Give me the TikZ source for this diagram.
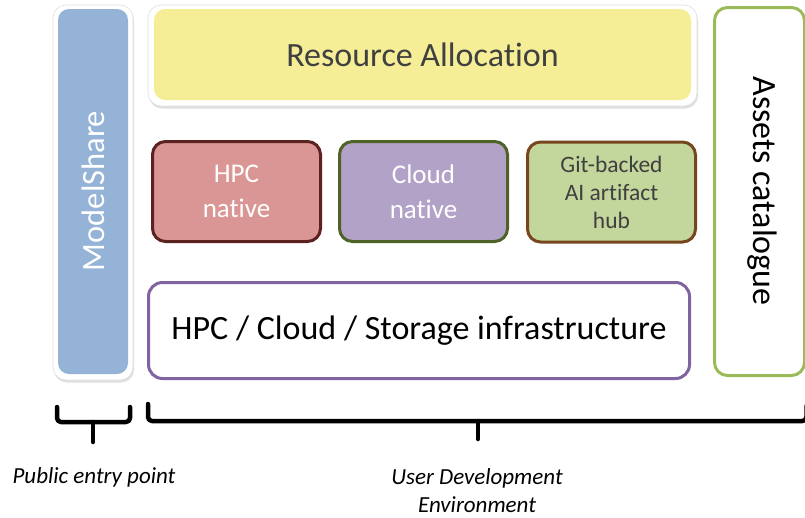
\documentclass[tikz,border=0pt]{standalone}
\usepackage{fontspec}
\setmainfont{Carlito}[Ligatures=NoCommon]
\usetikzlibrary{shadows}
\definecolor{msblue}{HTML}{95B3D7}
\definecolor{ryellow}{HTML}{F6EE96}
\definecolor{hpcfill}{HTML}{D99694}
\definecolor{hpcdraw}{HTML}{5C2220}
\definecolor{cloudfill}{HTML}{B3A2C7}
\definecolor{clouddraw}{HTML}{4F6228}
\definecolor{gitfill}{HTML}{C3D69B}
\definecolor{gitdraw}{HTML}{78461E}
\definecolor{infradraw}{HTML}{8064A2}
\definecolor{assetdraw}{HTML}{9BBB59}
\definecolor{darktext}{HTML}{404040}
\begin{document}
\begin{tikzpicture}[x=1pt,y=-1pt,
  frame/.style={fill=white, draw=black!12, line width=0.6pt, rounded corners=13pt, inner sep=0pt,
    drop shadow={shadow xshift=1pt,shadow yshift=-2.5pt,opacity=0.25}},
  panel/.style={rounded corners=11pt, inner sep=0pt},
  tile/.style={rounded corners=13pt, line width=3pt, minimum width=168pt, minimum height=100pt,
    align=center, inner sep=0pt},
  bigtext/.style={font=\fontsize{34}{40}\selectfont},
  tiletext/.style={font=\fontsize{27}{35}\selectfont},
  brace/.style={line width=4.5pt, line cap=round, line join=round, rounded corners=4pt},
  caption/.style={font=\fontsize{23}{28}\selectfont\itshape, align=center, inner sep=0pt}]
\useasboundingbox (0,0) rectangle (805,517);
\clip (0,0) rectangle (805,517);
\fill[white] (0,0) rectangle (805,517);

% ModelShare
\node[frame, minimum width=80pt, minimum height=375pt] (msframe) at (93,192.5) {};
\node[panel, fill=msblue, minimum width=70pt, minimum height=365pt] (ms) at (93,191.5) {};
\node[text=white, rotate=90, font=\fontsize{32.5}{38}\selectfont] (mstext) at (93.5,191) {ModelShare};

% Resource Allocation
\node[frame, minimum width=549pt, minimum height=101pt] (raframe) at (422.5,55.5) {};
\node[panel, fill=ryellow, minimum width=537pt, minimum height=91pt, bigtext, text=darktext] (ra) at (422.5,54.5) {Resource Allocation};

% tiles
\node[tile, fill=hpcfill, draw=hpcdraw, tiletext, text=white] (hpc) at (236.5,191.5) {HPC\\native};
\node[tile, fill=cloudfill, draw=clouddraw, tiletext, text=white] (cloud) at (423.5,191.5) {Cloud\\native};
\node[tile, fill=gitfill, draw=gitdraw, font=\fontsize{23.5}{28}\selectfont, text=darktext] (git) at (611.5,192) {Git-backed\\AI artifact\\hub};

% infrastructure
\node[tile, fill=white, draw=infradraw, minimum width=541pt, minimum height=96pt, rounded corners=14pt, bigtext, text=black] (infra) at (419,330.5) {HPC / Cloud / Storage infrastructure};

% Assets catalogue
\node[tile, fill=white, draw=assetdraw, minimum width=90pt, minimum height=368pt] (assets) at (759.5,191.5) {};
\node[bigtext, text=black, rotate=-90] (assetstext) at (762,191) {Assets catalogue};

% brackets
\coordinate (pa) at (57,407);
\coordinate (pb) at (130,407);
\coordinate (pm) at (93,422);
\coordinate (pt) at (93,442);
\draw[brace] (pa) -- (57,422) -- (130,422) -- (pb);
\draw[brace, rounded corners=0pt] (pm) -- (pt);

\coordinate (ua) at (148,404);
\coordinate (ub) at (806.5,406);
\coordinate (um) at (478,421);
\coordinate (ut) at (478,439);
\draw[brace] (ua) -- (148,421) -- (806.5,421) -- (ub);
\draw[brace, rounded corners=0pt] (um) -- (ut);

% captions
\node[caption] (pep) at (94,477) {Public entry point};
\node[caption] (ude) at (477,490.5) {User Development\\Environment};
\end{tikzpicture}
\end{document}
